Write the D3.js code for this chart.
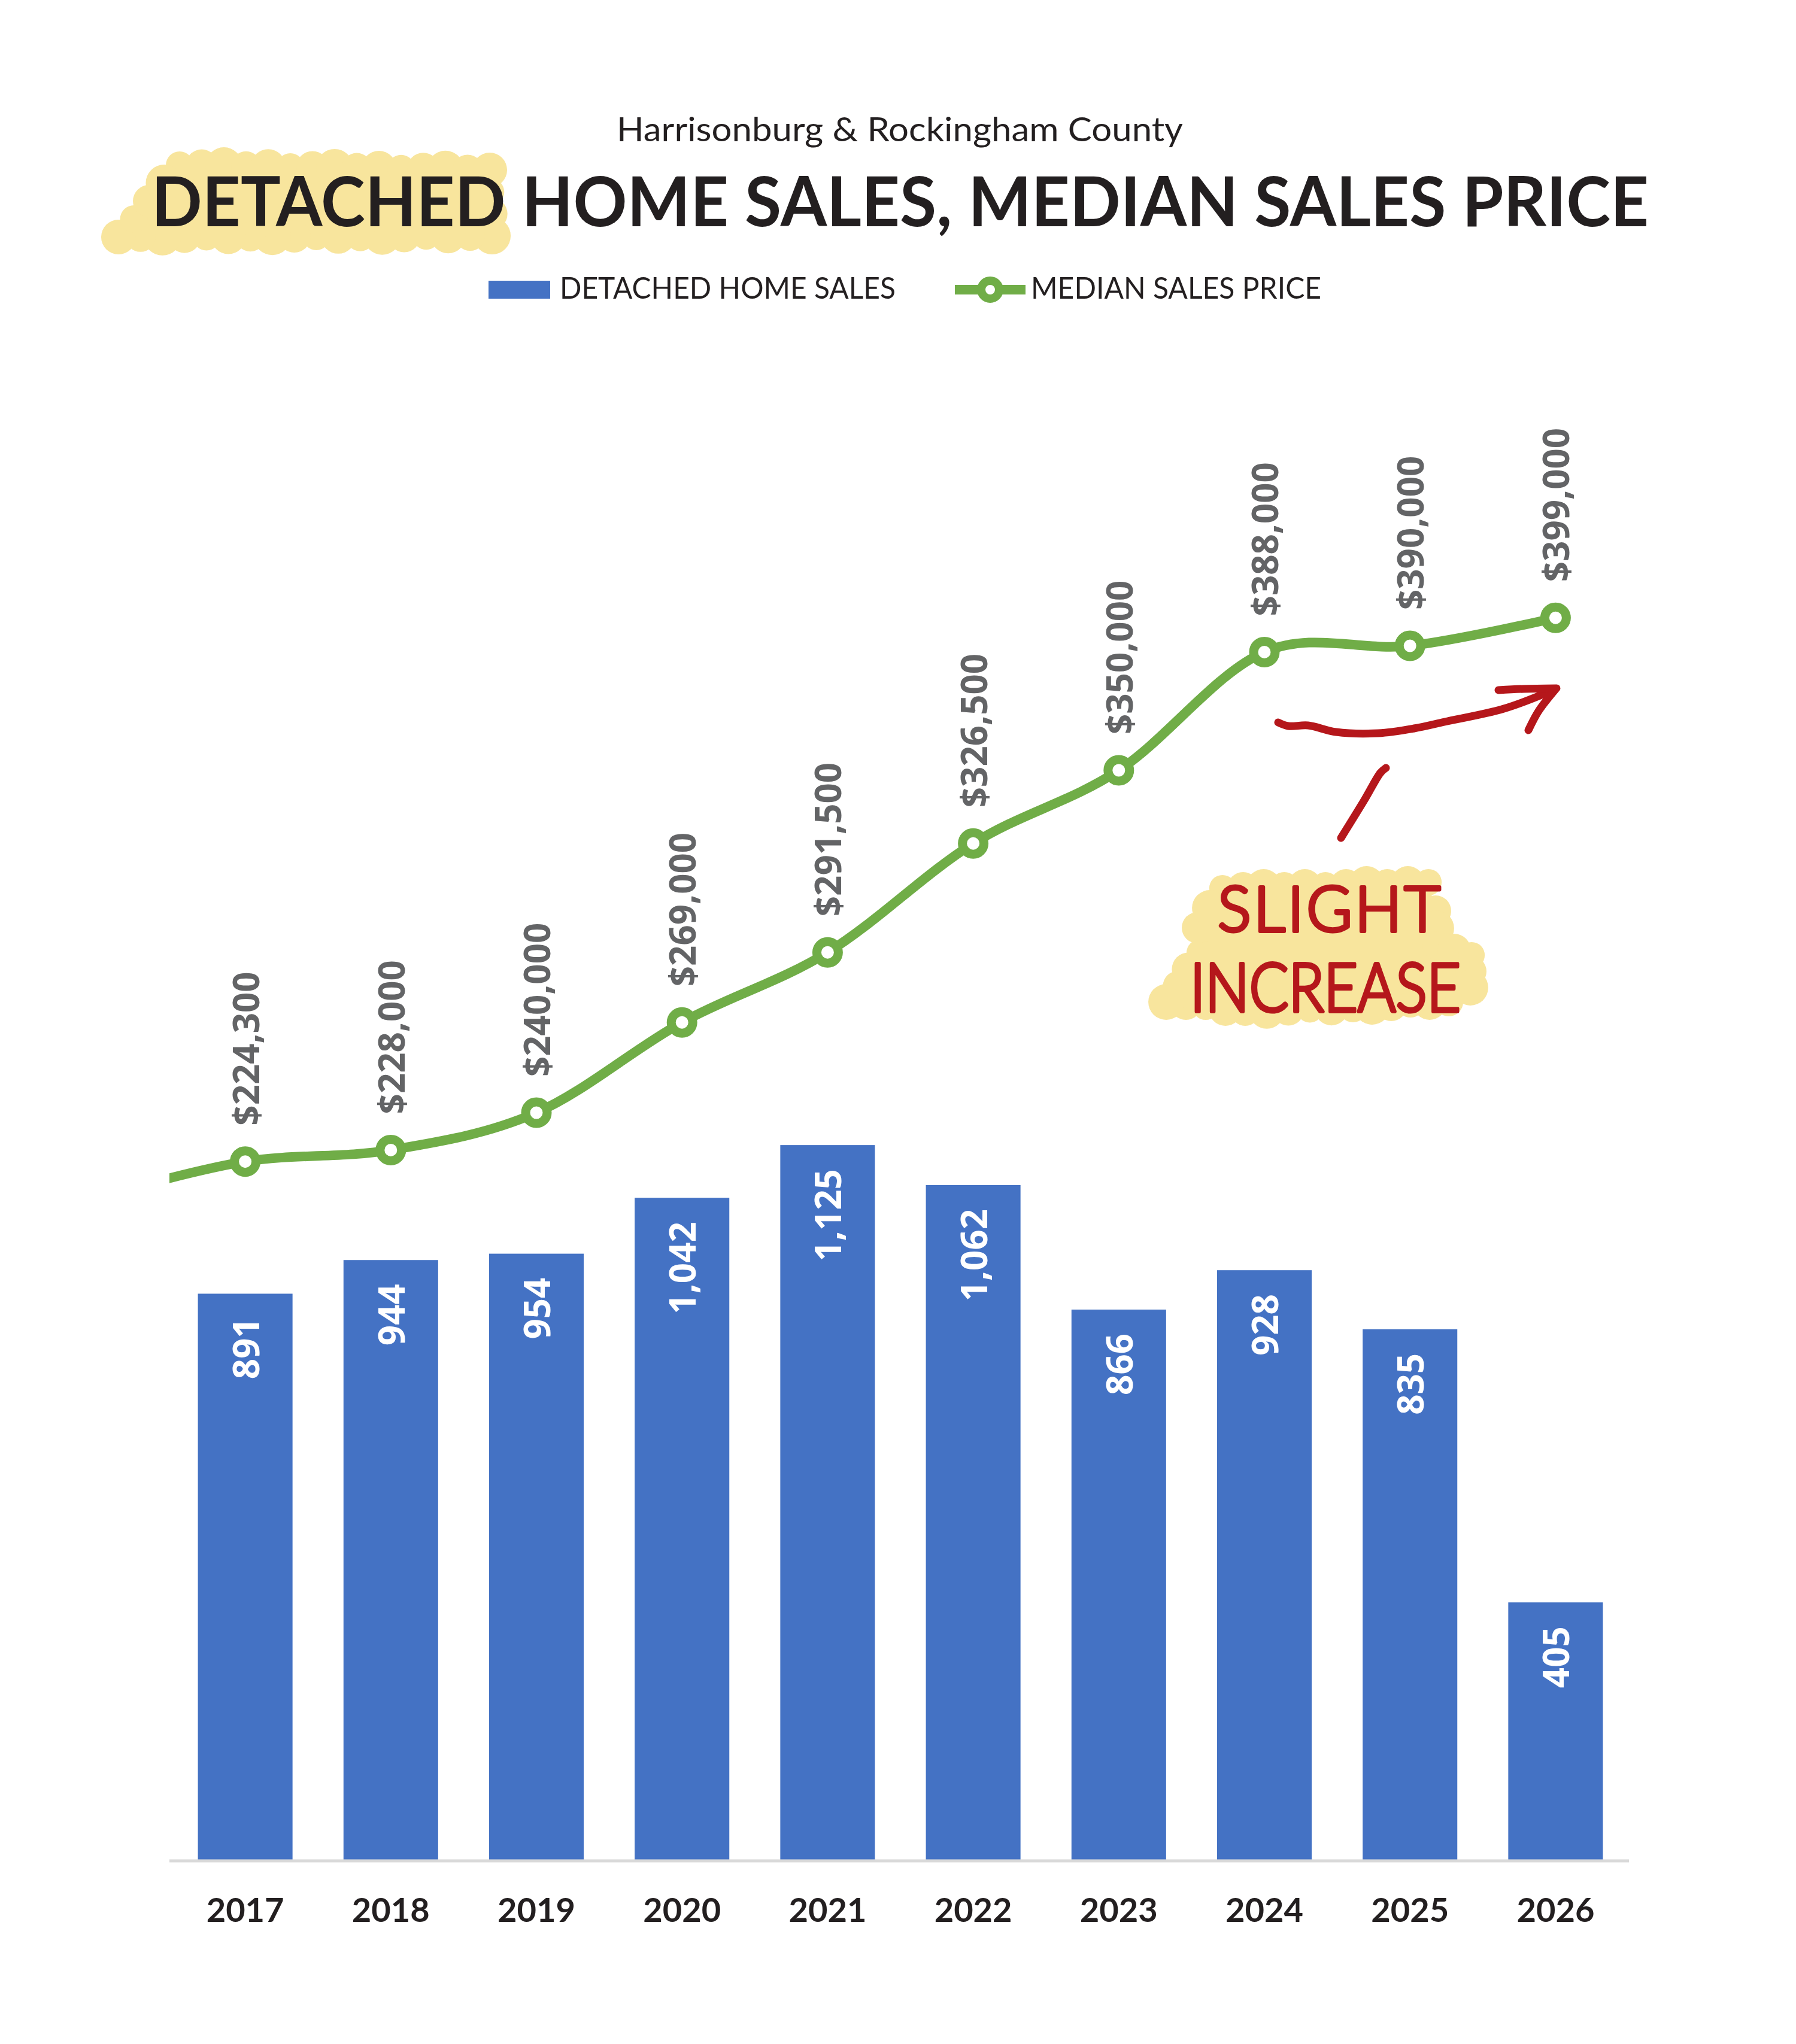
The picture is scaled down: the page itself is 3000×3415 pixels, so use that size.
<!DOCTYPE html>
<html>
<head>
<meta charset="utf-8">
<script src="https://cdn.jsdelivr.net/npm/d3@7"></script>
<style>
body { margin: 0; background: #fff; }
</style>
</head>
<body>
<svg id="chart"></svg>
<script>
const years = ['2017', '2018', '2019', '2020', '2021', '2022', '2023', '2024', '2025', '2026'];
const homeSales = [891, 944, 954, 1042, 1125, 1062, 866, 928, 835, 405];
const medianPrices = [224300, 228000, 240000, 269000, 291500, 326500, 350000, 388000, 390000, 399000];
// the line comes in from a 2016 point that sits left of the plot
const priorPrice = 213000;

const subtitle = 'Harrisonburg & Rockingham County';
const title = 'DETACHED HOME SALES, MEDIAN SALES PRICE';
const legendLabels = ['DETACHED HOME SALES', 'MEDIAN SALES PRICE'];
const noteLines = ['SLIGHT', 'INCREASE'];

const blue = '#4472C4';
const green = '#70AD47';
const yellow = '#F8E59D';
const red = '#B5171B';
const ink = '#231F20';

const W = 3000, H = 3415;
const plot = { left: 283, right: 2721, top: 507, bottom: 3107 };

const svg = d3.select('#chart')
    .attr('width', W)
    .attr('height', H)
    .style('font-family', 'Lato, sans-serif');

// scalloped marker-pen highlight
function blob(g, pts, r) {
    const ring = pts.concat([pts[0]]);
    const bumps = [];
    for (let i = 0; i < pts.length; i++) {
        const a = ring[i], b = ring[i + 1];
        const len = Math.hypot(b[0] - a[0], b[1] - a[1]);
        const n = Math.max(1, Math.round(len / (r * 1.35)));
        for (let j = 0; j < n; j++) {
            const t = j / n;
            bumps.push([a[0] + (b[0] - a[0]) * t, a[1] + (b[1] - a[1]) * t]);
        }
    }
    g.append('path')
        .attr('d', d3.line()(pts) + 'Z')
        .attr('fill', yellow);
    g.selectAll(null)
        .data(bumps)
        .join('circle')
        .attr('cx', d => d[0])
        .attr('cy', d => d[1])
        .attr('r', (d, i) => r * (0.85 + 0.3 * ((i * 7) % 5) / 4))
        .attr('fill', yellow);
}

// header
const header = svg.append('g');
blob(header, [[300, 276], [818, 284], [822, 394], [198, 396]], 27);

header.append('text')
    .attr('x', 1503)
    .attr('y', 236)
    .attr('text-anchor', 'middle')
    .attr('font-size', 57)
    .attr('fill', ink)
    .attr('textLength', 946)
    .attr('lengthAdjust', 'spacingAndGlyphs')
    .text(subtitle);

header.append('text')
    .attr('x', 253)
    .attr('y', 378)
    .attr('font-size', 115)
    .attr('font-weight', 700)
    .attr('fill', ink)
    .attr('textLength', 2501)
    .attr('lengthAdjust', 'spacingAndGlyphs')
    .text(title);

// legend
const legend = svg.append('g');
legend.append('rect')
    .attr('x', 816).attr('y', 469)
    .attr('width', 103).attr('height', 30)
    .attr('fill', blue);
legend.append('text')
    .attr('x', 935).attr('y', 499)
    .attr('font-size', 50)
    .attr('fill', ink)
    .attr('textLength', 561)
    .attr('lengthAdjust', 'spacingAndGlyphs')
    .text(legendLabels[0]);
legend.append('line')
    .attr('x1', 1595).attr('x2', 1713)
    .attr('y1', 484).attr('y2', 484)
    .attr('stroke', green).attr('stroke-width', 16);
legend.append('circle')
    .attr('cx', 1654).attr('cy', 484).attr('r', 15)
    .attr('fill', '#fff')
    .attr('stroke', green).attr('stroke-width', 14);
legend.append('text')
    .attr('x', 1722).attr('y', 499)
    .attr('font-size', 50)
    .attr('fill', ink)
    .attr('textLength', 485)
    .attr('lengthAdjust', 'spacingAndGlyphs')
    .text(legendLabels[1]);

// scales
const x = d3.scaleBand()
    .domain(years)
    .range([288, 2720])
    .paddingInner(0.35)
    .paddingOuter(0.175);
const xc = d => x(d) + x.bandwidth() / 2;

const ySales = d3.scaleLinear()
    .domain([0, 2450])
    .range([plot.bottom, plot.top]);
const yPrice = d3.scaleLinear()
    .domain([0, 500000])
    .range([plot.bottom, plot.top]);

const sales = years.map((y, i) => ({ year: y, value: homeSales[i] }));
const prices = years.map((y, i) => ({ x: xc(y), value: medianPrices[i] }));
const priceLine = [{ x: xc(years[0]) - x.step(), value: priorPrice }].concat(prices);

// bars
svg.append('g')
    .selectAll('rect')
    .data(sales)
    .join('rect')
    .attr('x', d => x(d.year))
    .attr('y', d => ySales(d.value))
    .attr('width', x.bandwidth())
    .attr('height', d => ySales(0) - ySales(d.value))
    .attr('fill', blue);

svg.append('g')
    .selectAll('text')
    .data(sales)
    .join('text')
    .attr('transform', d => `translate(${xc(d.year)}, ${ySales(d.value) + 40}) rotate(-90)`)
    .attr('text-anchor', 'end')
    .attr('dominant-baseline', 'central')
    .attr('font-family', '"Open Sans", sans-serif')
    .attr('font-weight', 700)
    .attr('font-size', 60)
    .attr('fill', '#fff')
    .text(d => d3.format(',')(d.value));

// x axis
const xaxis = d3.axisBottom(x)
    .tickSize(0)
    .tickSizeOuter(0)
    .tickPadding(62);

const xaxis_group = svg.append('g')
    .attr('transform', `translate(0, ${plot.bottom + 2})`)
    .call(xaxis);
xaxis_group.select('.domain')
    .attr('d', `M${plot.left},0H${plot.right}`)
    .attr('stroke', '#D9D9D9')
    .attr('stroke-width', 5);
xaxis_group.selectAll('text')
    .attr('font-family', 'Lato, sans-serif')
    .attr('font-weight', 700)
    .attr('font-size', 56)
    .attr('fill', ink);

// price line, clipped to the plot area
svg.append('clipPath')
    .attr('id', 'plot-clip')
    .append('rect')
    .attr('x', plot.left).attr('y', 0)
    .attr('width', plot.right - plot.left)
    .attr('height', plot.bottom);

const line = d3.line()
    .x(d => d.x)
    .y(d => yPrice(d.value))
    .curve(d3.curveCardinal.tension(0));

svg.append('path')
    .attr('clip-path', 'url(#plot-clip)')
    .attr('d', line(priceLine))
    .attr('fill', 'none')
    .attr('stroke', green)
    .attr('stroke-width', 16)
    .attr('stroke-linecap', 'round');

svg.append('g')
    .selectAll('circle')
    .data(prices)
    .join('circle')
    .attr('cx', d => d.x)
    .attr('cy', d => yPrice(d.value))
    .attr('r', 18)
    .attr('fill', '#fff')
    .attr('stroke', green)
    .attr('stroke-width', 15);

svg.append('g')
    .selectAll('text')
    .data(prices)
    .join('text')
    .attr('transform', d => `translate(${d.x}, ${yPrice(d.value) - 60}) rotate(-90)`)
    .attr('dominant-baseline', 'central')
    .attr('font-family', '"Open Sans", sans-serif')
    .attr('font-weight', 700)
    .attr('font-size', 60)
    .attr('fill', '#636466')
    .text(d => d3.format('$,')(d.value));

// hand-drawn note
const note = svg.append('g');
blob(note, [[2042, 1484], [2386, 1474], [2398, 1522], [2400, 1580], [2458, 1596],
    [2456, 1650], [2420, 1674], [2260, 1684], [2080, 1690], [1948, 1674],
    [2004, 1592], [2000, 1550]], 26);

const pen = d3.line().curve(d3.curveCatmullRom);
const strokes = [
    [[2135, 1207], [2152, 1213], [2185, 1212], [2232, 1223], [2302, 1225], [2362, 1217], [2413, 1206], [2512, 1184], [2592, 1154]],
    [[2503, 1153], [2545, 1151], [2600, 1150]],
    [[2553, 1220], [2570, 1188], [2598, 1152]],
    [[2315, 1283], [2306, 1291], [2280, 1335], [2240, 1400]]
];
note.selectAll('path.pen')
    .data(strokes)
    .join('path')
    .attr('class', 'pen')
    .attr('d', d => pen(d))
    .attr('fill', 'none')
    .attr('stroke', red)
    .attr('stroke-width', 13)
    .attr('stroke-linecap', 'round')
    .attr('stroke-linejoin', 'round');

note.append('text')
    .attr('x', 2034).attr('y', 1556)
    .attr('font-family', 'Lato, sans-serif')
    .attr('font-weight', 300)
    .attr('font-size', 104)
    .attr('fill', red)
    .attr('stroke', red)
    .attr('stroke-width', 6)
    .attr('stroke-linejoin', 'round')
    .attr('stroke-linecap', 'round')
    .attr('textLength', 372)
    .attr('lengthAdjust', 'spacing')
    .text(noteLines[0]);

note.append('text')
    .attr('x', 1988).attr('y', 1690)
    .attr('font-family', 'Lato, sans-serif')
    .attr('font-weight', 300)
    .attr('font-size', 112)
    .attr('fill', red)
    .attr('stroke', red)
    .attr('stroke-width', 6)
    .attr('stroke-linejoin', 'round')
    .attr('stroke-linecap', 'round')
    .attr('textLength', 452)
    .attr('lengthAdjust', 'spacingAndGlyphs')
    .text(noteLines[1]);
</script>
</body>
</html>
